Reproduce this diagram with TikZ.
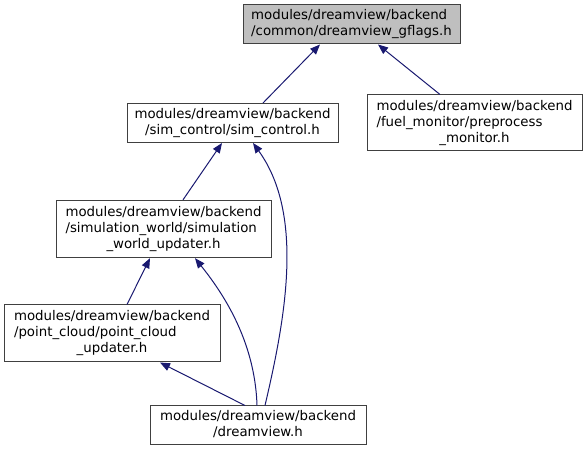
\documentclass[tikz,border=0pt]{standalone}
\usepackage{fontspec}
\setmainfont{DejaVu Sans}
\usetikzlibrary{arrows.meta,calc}
\definecolor{edgeblue}{HTML}{191970}
\definecolor{boxborder}{HTML}{404040}
\definecolor{topfill}{HTML}{BFBFBF}
\newcommand\dlab[2]{\begin{tabular}{@{}l@{}}#1\\\multicolumn{1}{@{}c@{}}{#2}\end{tabular}}
\begin{document}
\begin{tikzpicture}[x=0.75pt,y=-0.75pt,
  box/.style={draw=boxborder,fill=white,line width=0.75pt,inner sep=0pt,
    font=\fontsize{10}{12}\selectfont},
  edge/.style={draw=edgeblue,line width=0.75pt,-{Triangle[length=7.5pt,width=6pt]}}]
\useasboundingbox (0,0) rectangle (587,453);
\node[box,fill=topfill,minimum width=162.75pt,minimum height=29.25pt] (top) at (351.5,24.5)
  {\dlab{modules/dreamview/backend}{/common/dreamview\_gflags.h}};
\node[box,minimum width=158.25pt,minimum height=29.25pt] (sim) at (232.5,123)
  {\dlab{modules/dreamview/backend}{/sim\_control/sim\_control.h}};
\node[box,minimum width=161.25pt,minimum height=42pt] (fuel) at (474.5,123)
  {\dlab{modules/dreamview/backend\\/fuel\_monitor/preprocess}{\_monitor.h}};
\node[box,minimum width=161.25pt,minimum height=43pt] (simw) at (163.5,229)
  {\dlab{modules/dreamview/backend\\/simulation\_world/simulation}{\_world\_updater.h}};
\node[box,minimum width=162pt,minimum height=42.75pt] (pc) at (112,333.5)
  {\dlab{modules/dreamview/backend\\/point\_cloud/point\_cloud}{\_updater.h}};
\node[box,minimum width=162pt,minimum height=29.25pt] (dv) at (258,425.5)
  {\dlab{modules/dreamview/backend}{/dreamview.h}};
% straight connectors
\draw[edge] ($(sim.north)+(30.5,0)$) -- ($(top.south)+(-31.5,0)$);
\draw[edge] ($(fuel.north)+(-34.5,0)$) -- ($(top.south)+(26.5,0)$);
\draw[edge] ($(simw.north)+(19.5,0)$) -- ($(sim.south)+(-10.5,0)$);
\draw[edge] ($(pc.north)+(15,0)$) -- ($(simw.south)+(-13.5,0)$);
\draw[edge] ($(dv.north)+(-13,0)$) -- ($(pc.south)+(48,0)$);
% curved connectors
\coordinate (dvA) at ($(dv.north)+(7,0)$);
\coordinate (simB) at ($(sim.south)+(20.5,0)$);
\draw[edge] (dvA) .. controls (285,320) and (305,215) .. (simB);
\coordinate (dvC) at ($(dv.north)+(-1,0)$);
\coordinate (simwB) at ($(simw.south)+(31.5,0)$);
\draw[edge] (dvC) .. controls (255,340) and (222,292) .. (simwB);
\end{tikzpicture}
\end{document}
